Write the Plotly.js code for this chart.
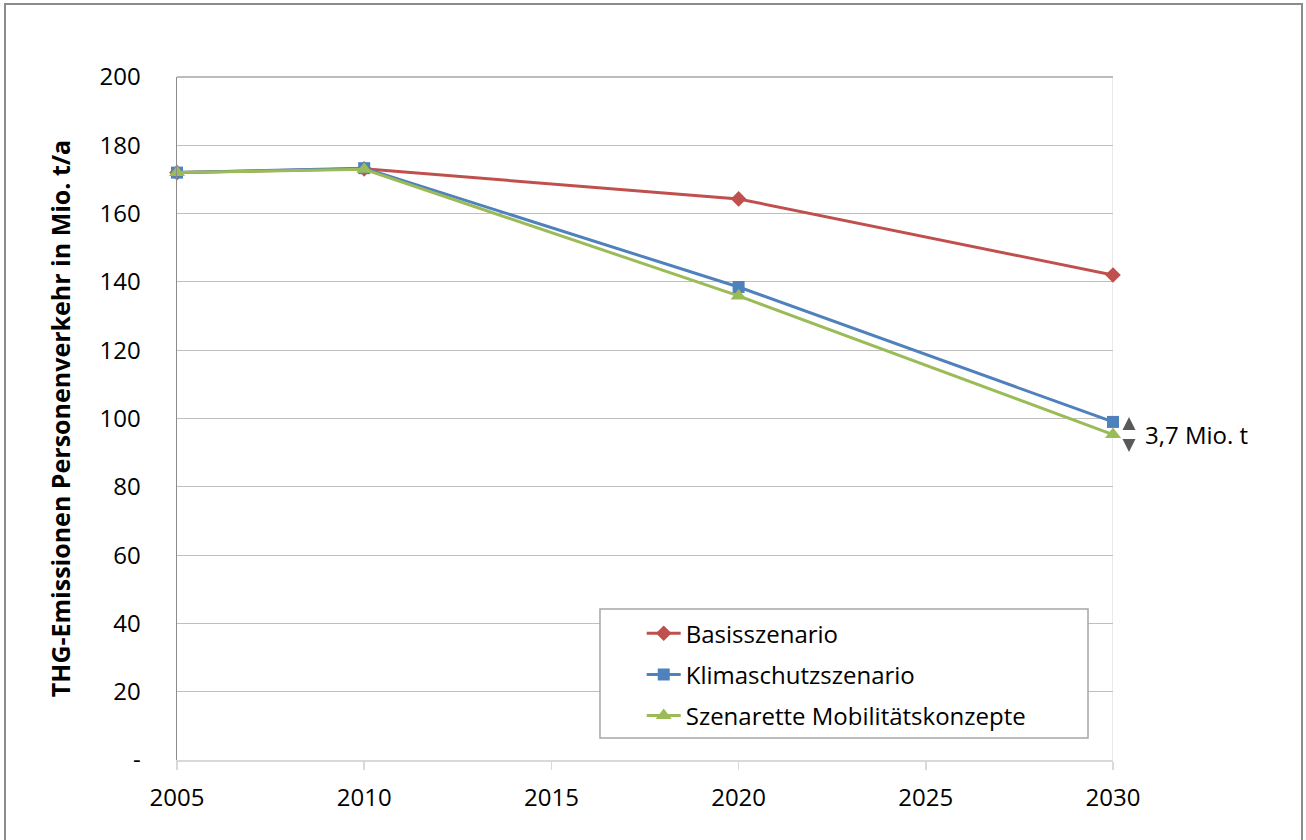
<!DOCTYPE html>
<html>
<head>
<meta charset="utf-8">
<script src="https://cdn.plot.ly/plotly-3.0.1.min.js"></script>
<style>html,body{margin:0;padding:0;background:#fff;}#chart{width:1306px;height:840px;}</style>
</head>
<body>
<div id="chart"></div>
<script>
const years = [2005, 2010, 2020, 2030];
const basis = [172.0, 173.1, 164.3, 142.0];
const klima = [172.0, 173.3, 138.5, 99.0];
const szen = [172.0, 173.0, 135.9, 95.3];
const seriesNames = ["Basisszenario", "Klimaschutzszenario", "Szenarette Mobilitätskonzepte"];
const yTickVals = [0, 20, 40, 60, 80, 100, 120, 140, 160, 180, 200];
const yTickText = ["-", "20", "40", "60", "80", "100", "120", "140", "160", "180", "200"];
const xTickVals = [2005, 2010, 2015, 2020, 2025, 2030];
const diffLabel = "3,7 Mio. t";

const FONT = "Open Sans, Noto Sans, sans-serif";
const FS = 24;
const traces = [
  {x: years, y: basis, name: seriesNames[0], legendgroup: "a", mode: "lines+markers", cliponaxis: false,
   line: {color: "#C0504D", width: 3}, marker: {symbol: "diamond", size: 12, color: "#C0504D"}},
  {x: years, y: klima, name: seriesNames[1], legendgroup: "b", mode: "lines+markers", cliponaxis: false,
   line: {color: "#4F81BD", width: 3}, marker: {symbol: "square", size: 12, color: "#4F81BD"}},
  {x: years, y: szen, name: seriesNames[2], legendgroup: "c", mode: "lines+markers", cliponaxis: false,
   line: {color: "#9BBB59", width: 3}, marker: {symbol: "triangle-up", size: 14, color: "#9BBB59"}}
];
const mid = (klima[3] + szen[3]) / 2;
const center = mid - 1.7;
const layout = {
  width: 1306, height: 840,
  margin: {l: 177, r: 193, t: 77, b: 80},
  paper_bgcolor: "#fff", plot_bgcolor: "#fff",
  font: {family: FONT, size: FS, color: "#000"},
  showlegend: true,
  legend: {x: 0.4965, y: 0.218, xanchor: "left", yanchor: "top",
    borderwidth: 0, bgcolor: "rgba(0,0,0,0)",
    font: {family: FONT, size: FS}, itemwidth: 34, tracegroupgap: 7,
    traceorder: "grouped"},
  xaxis: {range: [2005, 2030], tickvals: xTickVals, showgrid: false, zeroline: false,
    showline: true, linecolor: "#d9d9d9", linewidth: 1.5,
    ticks: "outside", ticklen: 8, tickcolor: "#d9d9d9", tickwidth: 1.5,
    tickfont: {family: FONT, size: FS}, ticklabelstandoff: 8},
  yaxis: {range: [0, 200], tickvals: yTickVals, ticktext: yTickText,
    showgrid: true, gridcolor: "#bfbfbf", gridwidth: 1, zeroline: false,
    showline: true, linecolor: "#8c8c8c", linewidth: 1.5, ticks: "",
    tickfont: {family: FONT, size: FS}, ticklabelstandoff: 30,
    title: {text: "<b>THG-Emissionen Personenverkehr in Mio. t/a</b>", font: {family: FONT, size: 25}, standoff: 22}},
  shapes: [
    {type: "line", xref: "x", yref: "paper", x0: 2030, x1: 2030, y0: 0, y1: 1,
     line: {color: "#e3e3e3", width: 1.5}, layer: "below"},
    {type: "line", xref: "x", yref: "paper", x0: 2005, x1: 2030, y0: 1, y1: 1,
     line: {color: "#a6a6a6", width: 1.5}, layer: "below"},
    {type: "rect", xref: "paper", yref: "paper", x0: 0.4519, x1: 0.9733, y0: 0.0322, y1: 0.2211,
     line: {color: "#a6a6a6", width: 1.5}, fillcolor: "#ffffff", layer: "above"},
    {type: "rect", xref: "paper", yref: "paper", xsizemode: "pixel", ysizemode: "pixel",
     xanchor: 0, yanchor: 0, x0: -172, x1: 1125, y0: -85, y1: 756,
     line: {color: "#8c8c8c", width: 2}, fillcolor: "rgba(0,0,0,0)"},
    {type: "line", xref: "x", yref: "y", xsizemode: "pixel", xanchor: 2030, x0: 16, x1: 16,
     y0: center - 2.6, y1: center + 2.6, line: {color: "#595959", width: 2, dash: "dot"}}
  ],
  annotations: [
    {x: 2030, y: center, xref: "x", yref: "y", xshift: 16, yshift: 17, ax: 0, ay: 9,
     showarrow: true, arrowhead: 2, arrowsize: 1.3, arrowwidth: 2, arrowcolor: "#595959", text: ""},
    {x: 2030, y: center, xref: "x", yref: "y", xshift: 16, yshift: -18, ax: 0, ay: -9,
     showarrow: true, arrowhead: 2, arrowsize: 1.3, arrowwidth: 2, arrowcolor: "#595959", text: ""},
    {x: 2030, y: center, xref: "x", yref: "y", xshift: 30, xanchor: "left", yanchor: "middle",
     showarrow: false, text: diffLabel, font: {family: FONT, size: FS, color: "#000"}}
  ]
};
Plotly.newPlot("chart", traces, layout, {displayModeBar: false, staticPlot: true});
</script>
</body>
</html>
